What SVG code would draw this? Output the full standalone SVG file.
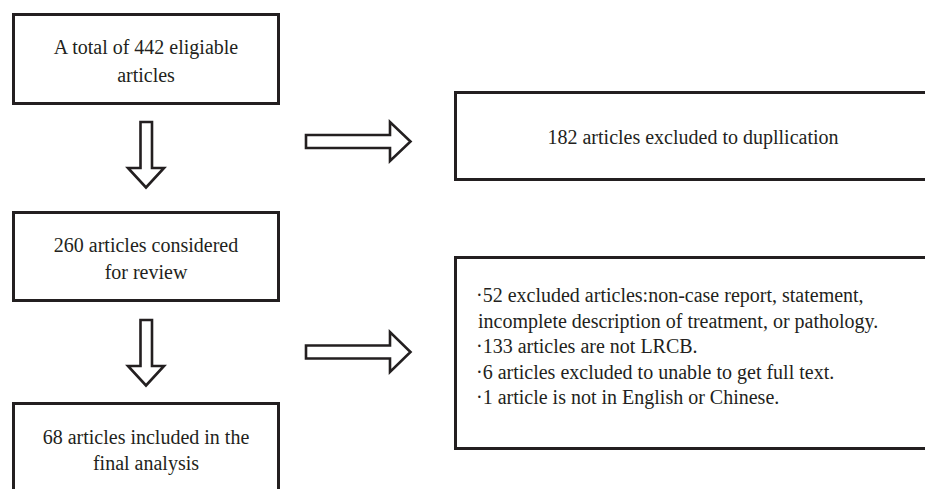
<svg xmlns="http://www.w3.org/2000/svg" width="925" height="489" viewBox="0 0 925 489">
<style>
.box{fill:#fff;stroke:#231f20;stroke-width:3}
.arr{fill:#fff;stroke:#231f20;stroke-width:2.6;stroke-linejoin:miter}
.t{font-family:'Liberation Serif','Times New Roman',Times,'DejaVu Serif',serif;font-size:20px;fill:#231f20}
.c{text-anchor:middle}
</style>
<rect width="925" height="489" fill="#fff"/>
<g id="n1" class="t" font-family="Liberation Serif, serif"><rect class="box" x="13.5" y="14.5" width="265" height="89"/>
<text class="c" x="146" y="54">A total of 442 eligiable</text>
<text class="c" x="146" y="82">articles</text></g>
<g id="n2" class="t"><rect class="box" x="13.5" y="212.5" width="265" height="88"/>
<text class="c" x="146" y="252">260 articles considered</text>
<text class="c" x="146" y="279">for review</text></g>
<g id="n3" class="t"><rect class="box" x="13.5" y="403.5" width="265" height="100"/>
<text class="c" x="146" y="444">68 articles included in the</text>
<text class="c" x="146" y="470">final analysis</text></g>
<g id="n4" class="t"><rect class="box" x="455.5" y="92.5" width="480" height="87"/>
<text class="c" x="693" y="144">182 articles excluded to dupllication</text></g>
<g id="n5" class="t"><rect class="box" x="455.5" y="257.5" width="480" height="191"/>
<text x="476" y="302">·52 excluded articles:non-case report, statement,</text>
<text x="478" y="328">incomplete description of treatment, or pathology.</text>
<text x="476" y="353">·133 articles are not LRCB.</text>
<text x="476" y="379">·6 articles excluded to unable to get full text.</text>
<text x="476" y="404">·1 article is not in English or Chinese.</text></g>
<g id="connectors">
<polygon class="arr" points="140.5,122 152,122 152,168 164,168 146,187.5 128,168 140.5,168"/>
<polygon class="arr" points="140.5,320 152,320 152,366 164,366 146,385.5 128,366 140.5,366"/>
<polygon class="arr" points="306,135 390,135 390,122 410.5,141.5 390,161 390,148 306,148"/>
<polygon class="arr" points="306,345.5 390,345.5 390,332 410.5,352 390,372 390,358.5 306,358.5"/>
</g>
</svg>
